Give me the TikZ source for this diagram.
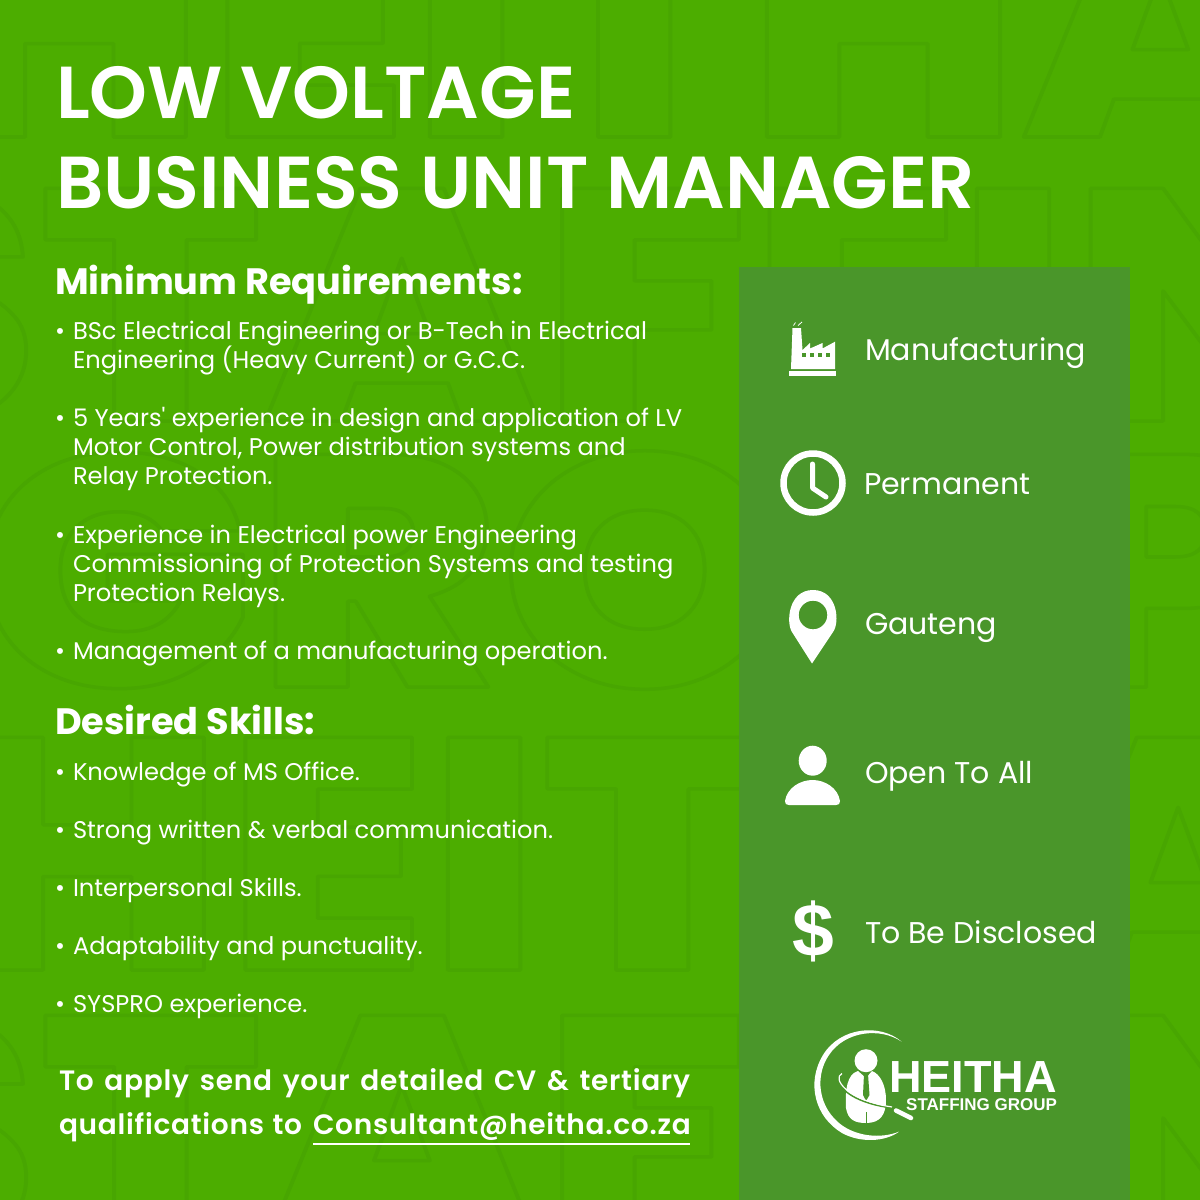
\documentclass[tikz,border=0pt]{standalone}
\usepackage{fontspec}
\setmainfont{Poppins}
\newfontfamily\psemi{Poppins SemiBold}
\newfontfamily\pmed[LetterSpace=2.6]{Poppins SemiBold}
\newfontfamily\pbold{Poppins}[UprightFont=*-Bold]
\newfontfamily\pxb{Poppins ExtraBold}
\newfontfamily\lib{Liberation Sans}
\definecolor{bggreen}{RGB}{76,173,0}
\definecolor{wmgreen}{RGB}{72,166,1}
\definecolor{panelgreen}{RGB}{74,150,42}
\newcommand\wm[1]{\scalebox{1.12}[1]{\special{pdf:code q 1 Tr 3.5 w 1 j}#1\special{pdf:code Q}}}
\newcommand\fsz[1]{\fontsize{#1}{#1}\selectfont}
\tikzset{
  tx/.style={anchor=base west,inner sep=0pt,outer sep=0pt,text=white,font=\fsz{24.15}},
  hd/.style={tx,font=\pbold\fsz{36.7}},
  ttl/.style={tx,font=\psemi\fsz{73.6}},
  side/.style={tx,font=\fsz{30}},
  wmk/.style={anchor=base west,inner sep=0pt,outer sep=0pt,text=wmgreen,font=\pxb\fsz{330}},
  apl/.style={tx,font=\pmed\fsz{28}},
  icon/.style={fill=white,draw=none},
}
\begin{document}
\begin{tikzpicture}[x=1pt,y=-1pt]
\useasboundingbox (0,0) rectangle (1200,1200);
\fill[bggreen] (0,0) rectangle (1200,1200);
\begin{scope}
\clip (0,0) rectangle (1200,1200);
\node[wmk] (w1) at (-68,137) {\wm{HEITHA}};
\node[wmk] (w2) at (-190,421) {\wm{STAFFING}};
\node[wmk] (w3) at (-25,687) {\wm{GROUP}};
\node[wmk] (w4) at (-50,970) {\wm{HEITHA}};
\node[wmk] (w5) at (-190,1248) {\wm{STAFFING}};
\end{scope}
\fill[panelgreen] (739,267) rectangle (1130,1200);
% title
\node[ttl] (t1) at (56,118) {LOW VOLTAGE};
\node[ttl] (t2) at (56,208) {BUSINESS UNIT MANAGER};
\node[hd] (h1) at (55,294) {Minimum Requirements:};
\node[tx] (b1) at (55,339.7) {•}; \node[tx] (l1) at (73,339.7) {BSc Electrical Engineering or B-Tech in Electrical};
\node[tx] (l2) at (73,368.7) {Engineering (Heavy Current) or G.C.C.};
\node[tx] (b2) at (55,426.7) {•}; \node[tx] (l3) at (73,426.7) {5 Years\textquotesingle{} experience in design and application of LV};
\node[tx] (l4) at (73,455.7) {Motor Control, Power distribution systems and};
\node[tx] (l5) at (73,484.7) {Relay Protection.};
\node[tx] (b3) at (55,543.5) {•}; \node[tx] (l6) at (73,543.5) {Experience in Electrical power Engineering};
\node[tx] (l7) at (73,572.5) {Commissioning of Protection Systems and testing};
\node[tx] (l8) at (73,601.5) {Protection Relays.};
\node[tx] (b4) at (55,659.5) {•}; \node[tx] (l9) at (73,659.5) {Management of a manufacturing operation.};
\node[hd] (h2) at (55,734) {Desired Skills:};
\node[tx] (b5) at (55,780.3) {•}; \node[tx] (s1) at (73,780.3) {Knowledge of MS Office.};
\node[tx] (b6) at (55,838.3) {•}; \node[tx] (s2) at (73,838.3) {Strong written \& verbal communication.};
\node[tx] (b7) at (55,896.3) {•}; \node[tx] (s3) at (73,896.3) {Interpersonal Skills.};
\node[tx] (b8) at (55,954.3) {•}; \node[tx] (s4) at (73,954.3) {Adaptability and punctuality.};
\node[tx] (b9) at (55,1012.3) {•}; \node[tx] (s5) at (73,1012.3) {SYSPRO experience.};
\node[apl] (a1) at (59,1090) {\makebox[631pt][s]{To apply send your detailed CV \& tertiary}};
\node[apl] (a2) at (59,1134) {\makebox[243pt][s]{qualifications to}};
\node[apl] (a3) at (313,1134) {Consultant@heitha.co.za};
\draw[white,line width=1.5pt] (313,1144) -- (690,1144);
% side
\node[side] (m1) at (865,360) {Manufacturing};
\node[side] (m2) at (864,494) {Permanent};
\node[side] (m3) at (865,634) {Gauteng};
\node[side] (m4) at (865,783.5) {Open To All};
\node[side] (m5) at (865,943) {To Be Disclosed};
% factory
\fill[icon] (789,371) rectangle (836,375.5);
\fill[icon] (791,369) -- (792.5,328) -- (801,328) -- (802.5,350) -- (810,343) -- (810,348.5) -- (822.5,343) -- (822.5,348.5) -- (835,341.7) -- (835,369) -- cycle;
\foreach \x in {804,812,820,828} \fill[panelgreen] (\x-1.7,353) rectangle (\x+1.7,357);
\draw[white,line width=.8pt] (793.5,325.5) -- (795.5,322.5) (798,325.5) -- (802,322);
% clock
\draw[white,line width=6.5pt] (813,483) circle (29.5);
\draw[white,line width=5pt,line cap=round,line join=round] (812.5,464) -- (812.5,488) -- (826,497);
% pin
\fill[icon,even odd rule] (812,663.5) -- (792,632) .. controls (786,623) and (788,590) .. (813,590) .. controls (838,590) and (840,623) .. (833,632) -- cycle (813,615) circle (14.3);
% person
\fill[icon] (812.7,760.7) ellipse (14 and 15);
\fill[icon] (785,801) .. controls (787,788) and (800,780) .. (812.5,780) .. controls (825,780) and (838,788) .. (840,801) .. controls (840,804) and (839,805) .. (836,805) -- (789,805) .. controls (786,805) and (785,804) .. (785,801) -- cycle;
% dollar
\node[anchor=center,inner sep=0pt,text=white,font=\lib\bfseries\fsz{75}] (d) at (813.5,931) {\$};
% logo
\fill[icon] (901.7,1041.7) .. controls (880,1023) and (840,1027) .. (823,1055) .. controls (806,1083) and (815,1117) .. (842,1133) .. controls (860,1143) and (885,1142) .. (899,1131.7) .. controls (880,1139) and (858,1136) .. (843,1126) .. controls (817,1108) and (815,1075) .. (829,1055) .. controls (845,1031) and (880,1027) .. (901.7,1041.7) -- cycle;
\fill[icon] (866,1060.7) circle (11.5);
\fill[icon] (858,1071) .. controls (847,1074) and (845,1090) .. (846,1108) .. controls (848,1120) and (855,1123) .. (866,1123) .. controls (880,1123) and (886,1115) .. (886,1100) .. controls (886,1085) and (880,1074) .. (872,1071) -- (866,1078) -- cycle;
\fill[panelgreen] (864,1074) -- (868,1074) -- (869.5,1095) -- (866,1101) -- (863,1095) -- cycle;
\draw[panelgreen,line width=1.5pt] (838,1078) .. controls (838,1090) and (858,1104) .. (893,1108);
\draw[white,line width=1.2pt] (842,1073.5) .. controls (832,1078) and (846,1100) .. (892,1107);
\draw[panelgreen,line width=1pt] (866,1123) -- (866,1112);
\draw[white,line width=4.5pt,line cap=round] (896,1110.5) -- (911,1118);
\node[anchor=base west,inner sep=0pt,text=white,font=\lib\bfseries\fsz{45}] (lg1) at (889,1092.7) {HEITHA};
\node[anchor=base west,inner sep=0pt,text=white,font=\lib\bfseries\fsz{17}] (lg2) at (906,1110) {STAFFING GROUP};
\end{tikzpicture}
\end{document}
